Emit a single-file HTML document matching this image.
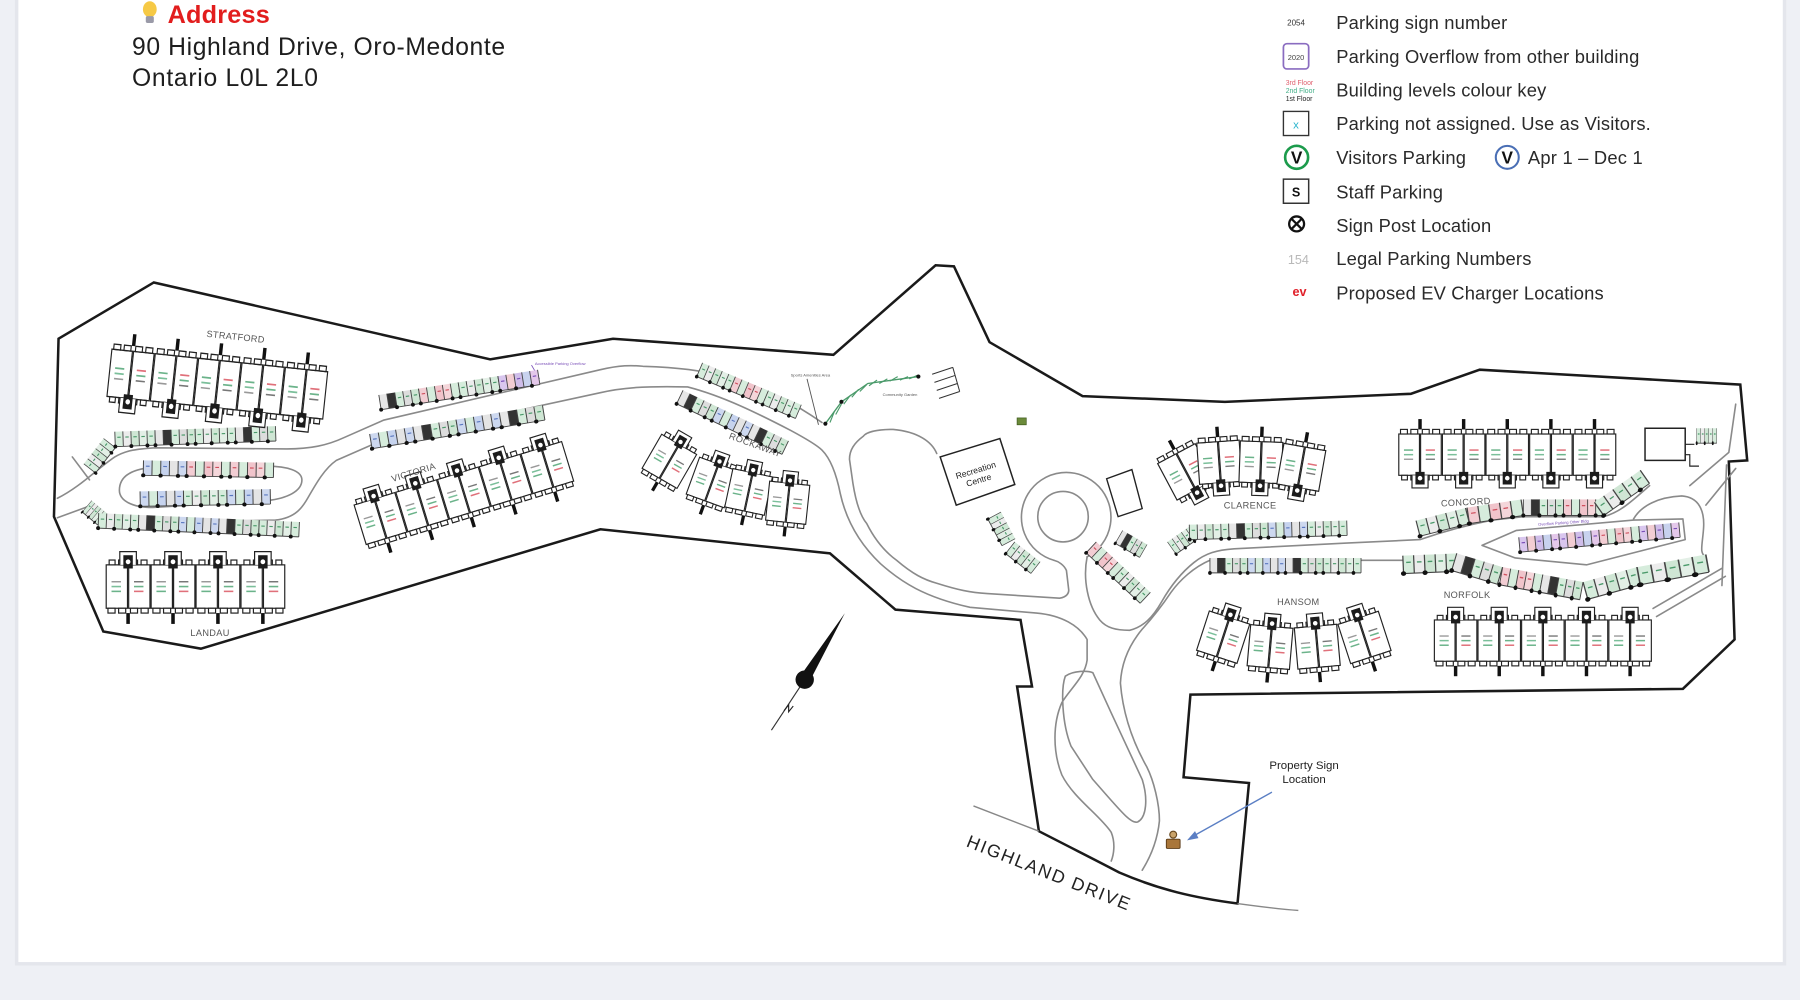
<!DOCTYPE html>
<html><head><meta charset="utf-8"><style>
html,body{margin:0;padding:0;background:#eef0f5;}
svg{display:block;}
.b{fill:#fff;stroke:#222;stroke-width:1;}
.rd{fill:none;stroke:#8a8a8a;stroke-width:1.4;stroke-linejoin:round;stroke-linecap:round;}
.lbl{font-family:"Liberation Sans",sans-serif;font-size:8px;fill:#555;letter-spacing:0.3px;}
.lg{font-family:"Liberation Sans",sans-serif;font-size:16px;fill:#2a2a2a;}
</style></head><body>
<svg width="1800" height="1000" viewBox="0 0 1568 871" xmlns="http://www.w3.org/2000/svg">
<defs>
 <g id="U">
  <rect x="0.5" y="0" width="18" height="36" class="b"/>
  <rect x="2" y="-4" width="6" height="4" class="b"/><rect x="11" y="-4" width="6" height="4" class="b"/>
  <rect x="3" y="36" width="5" height="4" class="b"/><rect x="11" y="36" width="5" height="4" class="b"/>
  <path d="M5,14h8" stroke="#6bb38a" stroke-width="1.3"/><path d="M5,18h8" stroke="#7bbf9a" stroke-width="1.3"/><path d="M5,22h8" stroke="#999" stroke-width="1.2"/>
 </g>
 <g id="U2">
  <rect x="0.5" y="0" width="18" height="36" class="b"/>
  <rect x="2" y="-4" width="6" height="4" class="b"/><rect x="11" y="-4" width="6" height="4" class="b"/>
  <rect x="3" y="36" width="5" height="4" class="b"/><rect x="11" y="36" width="5" height="4" class="b"/>
  <path d="M5,14h8" stroke="#e0707a" stroke-width="1.3"/><path d="M5,18h8" stroke="#6bb38a" stroke-width="1.3"/><path d="M5,22h8" stroke="#777" stroke-width="1.2"/>
 </g>
 <g id="PB">
  <use href="#U"/><use href="#U2" x="19"/>
  <path d="M12,36 V47 H26 V36" class="b"/>
  <rect x="15" y="33" width="8" height="11" fill="#1c1c1c"/>
  <circle cx="19" cy="38.5" r="2" fill="#fff"/>
  <path d="M19,-4 V-13" stroke="#111" stroke-width="3"/>
 </g>
 <g id="PT"><g transform="translate(0,36) scale(1,-1)"><use href="#PB"/></g></g>
 <g id="sg">
  <rect x="0" y="0" width="7" height="13" fill="#d6ecdc"/><rect x="7" y="0" width="7" height="13" fill="#ececec"/>
  <rect x="14" y="0" width="7" height="13" fill="#cfe6d4"/><rect x="21" y="0" width="7" height="13" fill="#e3efe6"/>
  <rect x="28" y="0" width="7" height="13" fill="#d6ecdc"/>
  <path d="M0,0V13M7,0V13M14,0V13M21,0V13M28,0V13M35,0V13M0,13H35" stroke="#444" stroke-width="0.8" fill="none"/>
  <path d="M2,5h3M9,5h3M16,5h3M23,5h3M30,5h3" stroke="#4a9a6a" stroke-width="1"/>
  <circle cx="0" cy="13" r="1.7" fill="#111"/><circle cx="14" cy="13" r="1.7" fill="#111"/><circle cx="28" cy="13" r="1.7" fill="#111"/>
 </g>
 <g id="sk">
  <rect x="0" y="0" width="7" height="13" fill="#e6e6e6"/><rect x="7" y="0" width="7" height="13" fill="#333"/>
  <rect x="14" y="0" width="7" height="13" fill="#d6ecdc"/><rect x="21" y="0" width="7" height="13" fill="#ddd"/>
  <rect x="28" y="0" width="7" height="13" fill="#cfe6d4"/>
  <path d="M0,0V13M7,0V13M14,0V13M21,0V13M28,0V13M35,0V13M0,13H35" stroke="#444" stroke-width="0.8" fill="none"/>
  <path d="M16,5h3M23,5h3M30,5h3" stroke="#4a9a6a" stroke-width="1"/>
  <circle cx="0" cy="13" r="1.7" fill="#111"/><circle cx="14" cy="13" r="1.7" fill="#111"/><circle cx="28" cy="13" r="1.7" fill="#111"/>
 </g>
 <g id="sr">
  <rect x="0" y="0" width="7" height="13" fill="#f2cdd3"/><rect x="7" y="0" width="7" height="13" fill="#d6ecdc"/>
  <rect x="14" y="0" width="7" height="13" fill="#f0c4cb"/><rect x="21" y="0" width="7" height="13" fill="#f4d6da"/>
  <rect x="28" y="0" width="7" height="13" fill="#d6ecdc"/>
  <path d="M0,0V13M7,0V13M14,0V13M21,0V13M28,0V13M35,0V13M0,13H35" stroke="#444" stroke-width="0.8" fill="none"/>
  <path d="M2,5h3M16,5h3M23,5h3" stroke="#d0505e" stroke-width="1"/>
  <circle cx="0" cy="13" r="1.7" fill="#111"/><circle cx="14" cy="13" r="1.7" fill="#111"/><circle cx="28" cy="13" r="1.7" fill="#111"/>
 </g>
 <g id="sb">
  <rect x="0" y="0" width="7" height="13" fill="#cdd8ef"/><rect x="7" y="0" width="7" height="13" fill="#d6ecdc"/>
  <rect x="14" y="0" width="7" height="13" fill="#c6d3ee"/><rect x="21" y="0" width="7" height="13" fill="#e4e4e4"/>
  <rect x="28" y="0" width="7" height="13" fill="#cdd8ef"/>
  <path d="M0,0V13M7,0V13M14,0V13M21,0V13M28,0V13M35,0V13M0,13H35" stroke="#444" stroke-width="0.8" fill="none"/>
  <path d="M2,5h3M16,5h3M30,5h3" stroke="#5a78c0" stroke-width="1"/>
  <circle cx="0" cy="13" r="1.7" fill="#111"/><circle cx="14" cy="13" r="1.7" fill="#111"/><circle cx="28" cy="13" r="1.7" fill="#111"/>
 </g>
 <g id="sp">
  <rect x="0" y="0" width="7" height="13" fill="#d9c6ee"/><rect x="7" y="0" width="7" height="13" fill="#f2cdd3"/>
  <rect x="14" y="0" width="7" height="13" fill="#cfbde9"/><rect x="21" y="0" width="7" height="13" fill="#c8d2ee"/>
  <rect x="28" y="0" width="7" height="13" fill="#e4c8ea"/>
  <path d="M0,0V13M7,0V13M14,0V13M21,0V13M28,0V13M35,0V13M0,13H35" stroke="#444" stroke-width="0.8" fill="none"/>
  <path d="M2,5h3M16,5h3M30,5h3" stroke="#7a4fb8" stroke-width="1"/>
  <circle cx="0" cy="13" r="1.7" fill="#111"/><circle cx="14" cy="13" r="1.7" fill="#111"/><circle cx="28" cy="13" r="1.7" fill="#111"/>
 </g>
</defs>

<!-- card -->
<rect x="13" y="-5" width="1543" height="846" fill="#e4e6ec"/>
<rect x="16" y="-5" width="1537" height="843" fill="#ffffff"/>

<!-- Address -->
<g>
 <ellipse cx="130.5" cy="8" rx="6" ry="7" fill="#f6c945"/>
 <rect x="127" y="14" width="7" height="6" rx="1.5" fill="#9a9aa8"/>
 <text x="146" y="20" font-family="Liberation Sans, sans-serif" font-weight="bold" font-size="22" fill="#e21d1d" textLength="89">Address</text>
 <text x="115" y="48" font-family="Liberation Sans, sans-serif" font-size="21.5" fill="#1e1e1e" textLength="325">90 Highland Drive, Oro-Medonte</text>
 <text x="115" y="75" font-family="Liberation Sans, sans-serif" font-size="21.5" fill="#1e1e1e" textLength="162">Ontario L0L 2L0</text>
</g>

<!-- Legend -->
<g>
 <text x="1129" y="22" text-anchor="middle" font-family="Liberation Sans, sans-serif" font-size="7" fill="#333">2054</text>
 <rect x="1118" y="38" width="22" height="22" rx="3" fill="#fff" stroke="#8a6cc0" stroke-width="1.5"/>
 <text x="1129" y="52" text-anchor="middle" font-family="Liberation Sans, sans-serif" font-size="6.5" fill="#444">2020</text>
 <text x="1120" y="74" font-family="Liberation Sans, sans-serif" font-size="6" fill="#e0606e">3rd Floor</text>
 <text x="1120" y="81" font-family="Liberation Sans, sans-serif" font-size="6" fill="#3fae86">2nd Floor</text>
 <text x="1120" y="88" font-family="Liberation Sans, sans-serif" font-size="6" fill="#222">1st Floor</text>
 <rect x="1118" y="97" width="22" height="21" fill="#fff" stroke="#333" stroke-width="1.2"/>
 <text x="1129" y="112" text-anchor="middle" font-family="Liberation Sans, sans-serif" font-size="10" fill="#27b3cc">x</text>
 <circle cx="1129.5" cy="137" r="10" fill="#fff" stroke="#1c9b4c" stroke-width="2.3"/>
 <text x="1129.5" y="142.5" text-anchor="middle" font-family="Liberation Sans, sans-serif" font-weight="bold" font-size="15" fill="#111">V</text>
 <circle cx="1313" cy="137" r="10" fill="#fff" stroke="#4a6fb5" stroke-width="1.8"/>
 <text x="1313" y="142.5" text-anchor="middle" font-family="Liberation Sans, sans-serif" font-weight="bold" font-size="15" fill="#111">V</text>
 <rect x="1118" y="156" width="22" height="21" fill="#fff" stroke="#333" stroke-width="1.3"/>
 <text x="1129" y="171" text-anchor="middle" font-family="Liberation Sans, sans-serif" font-weight="bold" font-size="11" fill="#111">S</text>
 <circle cx="1129.5" cy="195" r="6.5" fill="none" stroke="#111" stroke-width="2"/>
 <path d="M1125,190.5 L1134,199.5 M1134,190.5 L1125,199.5" stroke="#111" stroke-width="2"/>
 <text x="1131" y="230" text-anchor="middle" font-family="Liberation Sans, sans-serif" font-size="11" fill="#b8b8b8">154</text>
 <text x="1132" y="258" text-anchor="middle" font-family="Liberation Sans, sans-serif" font-weight="bold" font-size="11" fill="#e0202a">ev</text>

 <text class="lg" x="1164" y="25" textLength="149">Parking sign number</text>
 <text class="lg" x="1164" y="55" textLength="264">Parking Overflow from other building</text>
 <text class="lg" x="1164" y="84" textLength="183">Building levels colour key</text>
 <text class="lg" x="1164" y="113" textLength="274">Parking not assigned. Use as Visitors.</text>
 <text class="lg" x="1164" y="143" textLength="113">Visitors Parking</text>
 <text class="lg" x="1331" y="143" textLength="100">Apr 1 – Dec 1</text>
 <text class="lg" x="1164" y="173" textLength="93">Staff Parking</text>
 <text class="lg" x="1164" y="202" textLength="135">Sign Post Location</text>
 <text class="lg" x="1164" y="231" textLength="170">Legal Parking Numbers</text>
 <text class="lg" x="1164" y="261" textLength="233">Proposed EV Charger Locations</text>
</g>

<!-- Property outline -->
<path d="M51,295 L134,246 L427,313 L534,295 L726,309 L815,231 L831,232 L862,298 L943,345 L1067,350 L1229,343 L1289,322 L1516,335 L1522,401 L1506,402 L1511,557 L1466,600 L1037,605 L1031,677 L1088,682 L1078,787 C1040,782 1010,775 975,760 C960,752 940,742 905,724 L886,598 L899,598 L889,540 L780,531 L723,482 L523,461 L175,565 L90,550 L47,450 Z" fill="none" stroke="#1a1a1a" stroke-width="2.2" stroke-linejoin="miter"/>
<path d="M848,702 L905,724" stroke="#888" stroke-width="1.2"/>
<path d="M1078,787 C1100,790 1115,792 1131,793" stroke="#888" stroke-width="1.2" fill="none"/>

<!-- Roads -->
<path class="rd" d="M50,434 C70,424 85,408 100,398 C110,392 120,391 135,390 L250,391 C270,391 285,388 300,381 L334,366 L523,322 C540,318 550,318 560,319 C590,320 610,322 640,330 C670,340 690,350 716,368"/>
<path class="rd" d="M50,451 L80,440 C92,452 110,455 140,455 L240,453 C258,451 264,441 268,434 C276,420 283,408 293,401 L334,383 L523,342 C540,338 560,336 599,337 C630,345 660,360 689,375 C702,382 712,388 716,392 C724,400 729,415 732,430 C736,448 745,470 767,491 C785,507 805,520 845,529 L903,534 C925,536 940,545 947,557 L947,575 C945,590 932,600 925,612 C917,630 917,655 925,675 C935,695 958,710 968,725 C972,735 970,745 968,750"/>
<path class="rd" d="M104,427 C104,418 110,409 133,407 L233,406 C250,406 263,410 263,418 C263,428 250,434 233,436 L133,442 C115,442 104,436 104,427 Z"/>
<path class="rd" d="M63,398 L78,418"/>
<!-- D island -->
<path class="rd" d="M816,395 C812,385 800,376 778,374 C765,374 755,376 752,380 C744,386 740,392 740,400 L743,421 C746,440 750,450 755,456 C762,470 770,480 781,488 C795,500 805,505 816,508 C835,514 845,516 860,517 L923,521 C930,520 931,516 931,514 L929,497 C927,492 922,489 918,488"/>
<!-- roundabout -->
<path class="rd" d="M918,488 A39,39 0 1,1 947,485"/>
<circle class="rd" cx="926" cy="450" r="22"/>
<!-- teardrop / east upper -->
<path class="rd" d="M947,485 C943,505 948,528 958,540 C964,547 972,549 984,549 C996,546 1004,538 1012,524 C1020,510 1030,498 1040,490 C1050,482 1060,479 1075,478 L1173,473 L1237,470 C1260,462 1280,457 1300,453 L1327,450 L1397,450 C1412,446 1422,436 1437,423"/>
<!-- east lower + right road to highland -->
<path class="rd" d="M1222,488 L1054,488 C1040,494 1028,505 1020,516 C1012,528 1005,537 995,548 C985,560 977,575 976,595 C978,620 986,645 999,668 C1005,680 1010,700 1010,715 C1008,735 1000,750 995,758"/>
<!-- lower island -->
<path class="rd" d="M928,589 C935,584 948,584 952,586 L968,621 L995,679 C1000,695 999,712 991,716 C985,718 975,705 952,679 L933,650 C925,630 924,600 928,589 Z"/>
<!-- wedge island & cul-de-sac -->
<path class="rd" d="M1291,475 L1321,462 L1423,453 L1466,452 L1468,470 L1382,492 L1320,486 Z"/>
<path class="rd" d="M1423,452 C1430,440 1445,433 1465,432 C1480,433 1485,445 1484,460 C1483,475 1480,482 1486,485"/>
<path class="rd" d="M1472,423 L1506,394 L1512,352"/>
<path class="rd" d="M1486,440 L1512,408"/>
<path class="rd" d="M1500,510 L1504,405"/>
<path class="rd" d="M1440,530 L1500,495 M1443,537 L1503,502"/>
<!-- walkway -->
<path d="M703,330 L713,370" stroke="#555" stroke-width="0.8"/>
<text x="706" y="328" text-anchor="middle" font-family="Liberation Sans, sans-serif" font-size="3.5" fill="#555">Sports Amenities Area</text>
<path d="M719,369 L733,350 L756,334 L800,328" fill="none" stroke="#4a9a6a" stroke-width="1.2"/>
<path d="M723,368 l4,-10 M728,361 l5,-9 M735,352 l6,-8 M742,346 l6,-7 M749,341 l6,-6 M757,336 l7,-5 M766,334 l7,-4 M775,332 l7,-4 M784,331 l7,-3 M792,330 l7,-3" stroke="#4a9a6a" stroke-width="1"/>
<circle cx="733" cy="350" r="1.8" fill="#111"/><circle cx="800" cy="328" r="1.8" fill="#111"/><circle cx="719" cy="369" r="1.8" fill="#111"/>
<text x="784" y="345" text-anchor="middle" font-family="Liberation Sans, sans-serif" font-size="3.5" fill="#555">Community Garden</text>
<path d="M812,326 L830,320 M814,333 L832,327 M816,340 L834,334 M818,347 L836,341 M830,320 L836,341" stroke="#333" stroke-width="0.9" fill="none"/>
<rect x="886" y="364" width="8" height="6" fill="#6b8a3a" stroke="#3e5a1e" stroke-width="0.6"/>
<path d="M463,318 L470,330" stroke="#7a4fb8" stroke-width="0.7"/>
<text x="488" y="318" text-anchor="middle" font-family="Liberation Sans, sans-serif" font-size="3.5" fill="#7a4fb8">Accessible Parking Overflow</text>

<!-- Recreation Centre -->
<polygon points="819,398 871,382 884,422 833,440" fill="#fff" stroke="#222" stroke-width="1.3"/>
<g transform="translate(851,413) rotate(-17)">
 <text x="0" y="-1" text-anchor="middle" font-family="Liberation Sans, sans-serif" font-size="7.5" fill="#222">Recreation</text>
 <text x="0" y="8" text-anchor="middle" font-family="Liberation Sans, sans-serif" font-size="7.5" fill="#222">Centre</text>
</g>
<polygon points="964,417 986,409 995,443 974,450" fill="#fff" stroke="#222" stroke-width="1.2"/>
<rect x="1433" y="373" width="35" height="28" fill="#fff" stroke="#222" stroke-width="1.3"/>
<path d="M1468,387 h8 M1468,396 h4 v10 h8" stroke="#222" stroke-width="1" fill="none"/>

<!-- Parking rows -->
<g transform="translate(73,404) rotate(-52) scale(0.8,1)"><use href="#sg"/></g>
<g transform="translate(100,376) rotate(-2)"><use href="#sg"/><use href="#sk" x="35"/><use href="#sg" x="70"/><use href="#sk" x="105"/></g>
<g transform="translate(125,401) rotate(1) scale(1.08,1)"><use href="#sb"/><use href="#sr" x="35"/><use href="#sr" x="70"/></g>
<g transform="translate(122,428) rotate(-1) scale(1.08,1)"><use href="#sb"/><use href="#sg" x="35"/><use href="#sb" x="70"/></g>
<g transform="translate(80,436) rotate(40) scale(0.5,1)"><use href="#sg"/></g>
<g transform="translate(86,447) rotate(2.5)"><use href="#sg"/><use href="#sk" x="35"/><use href="#sb" x="70"/><use href="#sk" x="105"/><use href="#sg" x="140"/></g>
<g transform="translate(330,344) rotate(-9)"><use href="#sk"/><use href="#sr" x="35"/><use href="#sg" x="70"/><use href="#sp" x="105"/></g>
<g transform="translate(322,378) rotate(-9.4) scale(1.09,1)"><use href="#sb"/><use href="#sk" x="35"/><use href="#sb" x="70"/><use href="#sk" x="105"/></g>
<g transform="translate(612,316) rotate(23) scale(0.89,1)"><use href="#sg"/><use href="#sr" x="35"/><use href="#sg" x="70"/></g>
<g transform="translate(595,340) rotate(25.6) scale(0.97,1)"><use href="#sk"/><use href="#sb" x="35"/><use href="#sk" x="70"/></g>
<g transform="translate(872,446) rotate(62) scale(0.75,1)"><use href="#sg"/></g>
<g transform="translate(884,472) rotate(38) scale(0.8,1)"><use href="#sg"/></g>
<g transform="translate(955,472) rotate(43) scale(0.92,1)"><use href="#sr"/><use href="#sg" x="35"/></g>
<g transform="translate(978,462) rotate(30) scale(0.7,1)"><use href="#sk"/></g>
<g transform="translate(1017,472) rotate(-35) scale(0.7,1)"><use href="#sg"/></g>
<g transform="translate(1036,457) rotate(-1.5) scale(0.98,1)"><use href="#sg"/><use href="#sk" x="35"/><use href="#sb" x="70"/><use href="#sg" x="105"/></g>
<g transform="translate(1054,486) scale(0.94,1)"><use href="#sk"/><use href="#sb" x="35"/><use href="#sk" x="70"/><use href="#sg" x="105"/></g>
<g transform="translate(1237,467) rotate(-14.3) translate(0,-14) scale(1.27,1.08)"><use href="#sg"/></g>
<g transform="translate(1280,456) rotate(-8.5) translate(0,-14) scale(1.36,1.08)"><use href="#sr"/></g>
<g transform="translate(1327,449) translate(0,-14) scale(1,1.08)"><use href="#sk"/><use href="#sr" x="35"/></g>
<g transform="translate(1397,449) rotate(-35) translate(0,-14) scale(1.39,1.08)"><use href="#sg"/></g>
<g transform="translate(1222,484) rotate(-2.4) scale(1.34,1.2)"><use href="#sg"/></g>
<g transform="translate(1269,482) rotate(16.7) scale(1.19,1.2)"><use href="#sk"/></g>
<g transform="translate(1309,494) rotate(10.5) scale(1.017,1.2)"><use href="#sr"/><use href="#sk" x="35"/></g>
<g transform="translate(1379,507) rotate(-15.5) scale(1.39,1.2)"><use href="#sg"/></g>
<g transform="translate(1426,494) rotate(-10.4) scale(1.74,1.2)"><use href="#sg"/></g>
<g transform="translate(1323,468) rotate(-5.3)"><use href="#sp"/><use href="#sp" x="35"/><use href="#sr" x="70"/><use href="#sp" x="105"/></g>
<text transform="translate(1340,458) rotate(-4)" font-family="Liberation Sans, sans-serif" font-size="3.5" fill="#7a4fb8">Overflow Parking Other Bldg</text>
<g transform="translate(1478,373) scale(0.5,1)"><use href="#sg"/></g>

<!-- Buildings -->
<g transform="translate(97,304) rotate(6) scale(1,1.15)">
 <use href="#PB"/><use href="#PB" x="38"/><use href="#PB" x="76"/><use href="#PB" x="114"/><use href="#PB" x="152"/>
</g>
<text class="lbl" transform="translate(205,296) rotate(6)" text-anchor="middle">STRATFORD</text>

<g transform="translate(92,492) scale(1.03,1.05)">
 <use href="#PT"/><use href="#PT" x="38"/><use href="#PT" x="76"/><use href="#PT" x="114"/>
</g>
<text class="lbl" x="183" y="554" text-anchor="middle">LANDAU</text>

<g transform="translate(308,440) rotate(-17)">
 <use href="#PT"/><use href="#PT" x="38"/><use href="#PT" x="76"/><use href="#PT" x="114"/><use href="#PT" x="152"/>
</g>
<text class="lbl" transform="translate(361,414) rotate(-17)" text-anchor="middle">VICTORIA</text>

<g transform="translate(576,378) rotate(30) scale(0.95)"><use href="#PT"/></g>
<g transform="translate(609,398) rotate(20) scale(0.95)"><use href="#PT"/></g>
<g transform="translate(638,408) rotate(12) scale(0.95)"><use href="#PT"/></g>
<g transform="translate(670,419) rotate(6) scale(0.95)"><use href="#PT"/></g>
<text class="lbl" transform="translate(657,390) rotate(20)" text-anchor="middle">ROCKAWAY</text>

<g transform="translate(1008,404) rotate(-28)"><use href="#PB"/></g>
<g transform="translate(1042,386) rotate(-4)"><use href="#PB"/></g>
<g transform="translate(1080,384) rotate(2)"><use href="#PB"/></g>
<g transform="translate(1118,386) rotate(10)"><use href="#PB"/></g>
<text class="lbl" x="1089" y="443" text-anchor="middle">CLARENCE</text>

<g transform="translate(1053,532) rotate(18)"><use href="#PT"/></g>
<g transform="translate(1089,544) rotate(5)"><use href="#PT"/></g>
<g transform="translate(1127,547) rotate(-5)"><use href="#PT"/></g>
<g transform="translate(1165,544) rotate(-18)"><use href="#PT"/></g>
<text class="lbl" x="1131" y="527" text-anchor="middle">HANSOM</text>

<g transform="translate(1218,378)">
 <use href="#PB"/><use href="#PB" x="38"/><use href="#PB" x="76"/><use href="#PB" x="114"/><use href="#PB" x="152"/>
</g>
<text class="lbl" transform="translate(1277,440) rotate(-3)" text-anchor="middle">CONCORD</text>

<g transform="translate(1249,540)">
 <use href="#PT"/><use href="#PT" x="38"/><use href="#PT" x="76"/><use href="#PT" x="114"/><use href="#PT" x="152"/>
</g>
<text class="lbl" x="1278" y="521" text-anchor="middle">NORFOLK</text>

<!-- North arrow -->
<path d="M672,636 L701,592" stroke="#333" stroke-width="1"/>
<polygon points="736,534 705,594 697,589" fill="#111"/>
<circle cx="701" cy="592" r="8" fill="#111"/>
<path d="M683,619 l4,-5 l0,6 l4,-5" stroke="#222" stroke-width="1" fill="none"/>

<!-- Property sign -->
<text x="1136" y="670" text-anchor="middle" font-family="Liberation Sans, sans-serif" font-size="10" fill="#222">Property Sign</text>
<text x="1136" y="682" text-anchor="middle" font-family="Liberation Sans, sans-serif" font-size="10" fill="#222">Location</text>
<path d="M1108,690 L1040,728" stroke="#5b7fc4" stroke-width="1.2"/>
<polygon points="1034,732 1041,724 1044,730" fill="#5b7fc4"/>
<circle cx="1022" cy="727" r="3" fill="#c9a36a" stroke="#6a4a20" stroke-width="1"/>
<rect x="1016" y="731" width="12" height="8" rx="1" fill="#a9763a" stroke="#5a3a15" stroke-width="0.8"/>

<!-- Highland Drive -->
<text transform="translate(841,737) rotate(21.7)" font-family="Liberation Sans, sans-serif" font-size="15.5" fill="#222" textLength="152" letter-spacing="0.5">HIGHLAND DRIVE</text>
</svg>
</body></html>
